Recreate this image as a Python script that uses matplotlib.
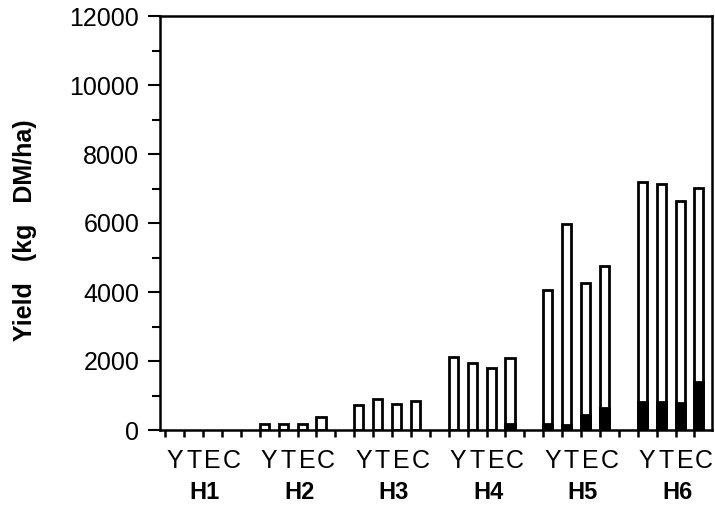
import numpy as np
import matplotlib
matplotlib.use('Agg')
import matplotlib.pyplot as plt
from matplotlib.ticker import MultipleLocator

plt.rcParams['font.family'] = ['Liberation Sans', 'DejaVu Sans']

# Data (kg DM/ha)
groups = ['H1', 'H2', 'H3', 'H4', 'H5', 'H6']
treatments = ['Y', 'T', 'E', 'C']
total_yield = [
    [0, 0, 0, 0],
    [170, 170, 170, 370],
    [720, 910, 760, 840],
    [2110, 1940, 1800, 2100],
    [4050, 5960, 4270, 4740],
    [7200, 7130, 6650, 7010],
]
dark_part = [
    [0, 0, 0, 0],
    [0, 0, 0, 0],
    [0, 0, 0, 0],
    [0, 0, 0, 170],
    [160, 150, 440, 640],
    [820, 820, 790, 1380],
]

fig = plt.figure(figsize=(7.15, 5.12), dpi=100)
ax = fig.add_axes([160 / 715, (512 - 430) / 512, 552 / 715, 414 / 512])

bar_w = 0.48
for g, name in enumerate(groups):
    xs = np.arange(4) + 5 * g
    tot = np.array(total_yield[g])
    dk = np.array(dark_part[g])
    ax.bar(xs[tot > 0], tot[tot > 0], width=bar_w, align='edge', color='white',
           edgecolor='black', linewidth=2, zorder=2)
    ax.bar(xs[dk > 0], dk[dk > 0], width=bar_w, align='edge', color='black',
           edgecolor='black', linewidth=2, zorder=3)
    # treatment letters and group label below the axis
    for k, t in enumerate(treatments):
        ax.text(xs[k] + 0.5, -0.075, t, transform=ax.get_xaxis_transform(),
                ha='center', va='center', fontsize=18)
    ax.text(5 * g + 2.1, -0.152, name, transform=ax.get_xaxis_transform(),
            ha='center', va='center', fontsize=17, fontweight='bold')

ax.set_xlim(-0.28, 28.93)
ax.set_ylim(0, 12000)
ax.set_xticks(np.arange(0, 29))
ax.set_xticklabels([])
ax.yaxis.set_major_locator(MultipleLocator(2000))
ax.yaxis.set_minor_locator(MultipleLocator(1000))
ax.tick_params(axis='y', which='major', length=9, width=1.5, labelsize=18, pad=6)
ax.tick_params(axis='y', which='minor', length=6, width=1.5)
ax.tick_params(axis='x', which='major', length=5, width=1.8)
for s in ax.spines.values():
    s.set_linewidth(1.8)

fig.text(25 / 715, 1 - 230 / 512, 'Yield   (kg   DM/ha)', rotation=90,
         ha='center', va='center', fontsize=18, fontweight='bold')

fig.savefig('out.png', dpi=100)
